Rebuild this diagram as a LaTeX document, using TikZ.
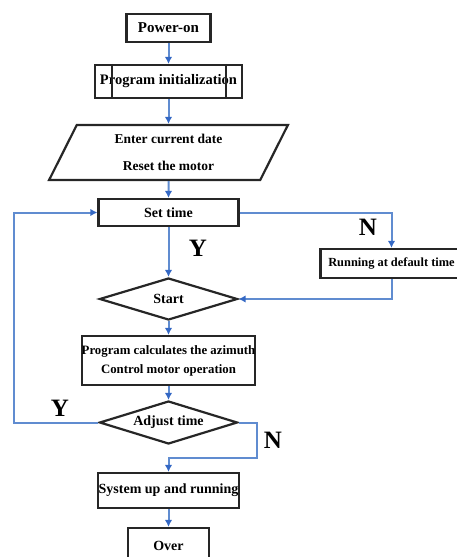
\documentclass[tikz,border=0pt]{standalone}
\usepackage{fontspec}
\setmainfont{Liberation Serif}
\usetikzlibrary{shapes.geometric,arrows.meta,calc}
\definecolor{flowblue}{RGB}{96,140,208}
\definecolor{tipblue}{RGB}{52,104,196}
\begin{document}
\begin{tikzpicture}[x=1pt,y=-1pt,>={Latex[length=7pt,width=7.5pt,fill=tipblue,color=tipblue]},
	box/.style={draw=black!85,line width=2.2pt,inner sep=0pt,align=center,
		font=\bfseries\fontsize{14}{19}\selectfont},
	decision/.style={diamond,aspect=3.2,draw=black!85,line width=2.2pt,inner sep=0pt,
		font=\bfseries\fontsize{14}{16}\selectfont},
	flow/.style={->,flowblue,line width=2pt},
	yn/.style={font=\bfseries\fontsize{25}{25}\selectfont}]
	\useasboundingbox (0,0) rectangle (457,557);
	% boxes
	\node [box,minimum width=84pt,minimum height=28pt,font=\bfseries\fontsize{15}{17}\selectfont] (power) at (168.5,28) {Power-on};
	\node [box,minimum width=147pt,minimum height=33pt,font=\bfseries\fontsize{14.5}{17}\selectfont] (init) at (168.5,81.5) {Program initialization};
	\draw [line width=2.2pt,black!85] ($(init.north west)+(18,0)$) -- ($(init.south west)+(18,0)$)
		($(init.north east)+(-17,0)$) -- ($(init.south east)+(-17,0)$);
	\node [box,trapezium,trapezium left angle=66,trapezium right angle=114,trapezium stretches=true,
		minimum width=239pt,minimum height=55pt,font=\bfseries\fontsize{13.5}{27}\selectfont] (input) at (168.5,152.5)
		{Enter current date\\Reset the motor};
	\node [box,minimum width=140pt,minimum height=27pt] (settime) at (168.5,212.5) {Set time};
	\node [box,minimum width=142pt,minimum height=29pt,font=\bfseries\fontsize{12.4}{15}\selectfont] (default) at (391.5,263.5) {Running at default time};
	\node [decision,minimum width=138pt,minimum height=42pt] (start) at (168.5,299) {Start};
	\node [box,minimum width=165pt,minimum height=49pt,font=\bfseries\fontsize{12.8}{19}\selectfont] (calc) at (168.5,360.5)
		{Program calculates the azimuth\\Control motor operation};
	\node [decision,minimum width=138pt,minimum height=43pt] (adjust) at (168.5,422.5) {Adjust time};
	\node [box,minimum width=141pt,minimum height=35pt] (system) at (168.5,490.5) {System up and running};
	\node [box,minimum width=81pt,minimum height=36pt] (over) at (168.5,546) {Over};
	% connectors
	\draw [flow] (power) -- (init);
	\draw [flow] (init) -- (input);
	\draw [flow] (input) -- (settime);
	\draw [flow] (settime) -- (start);
	\draw [flow] (start) -- (calc);
	\draw [flow] (calc) -- (adjust);
	\draw [flow] (system) -- (over);
	\draw [flow] (settime.east) -| (default.north);
	\draw [flow] (default.south) |- (start.east);
	\draw [flow] (adjust.west) -- (14,422.5) |- (settime.west);
	\draw [flow] (adjust.east) -- (257,422.5) -- (257,458) -| (system.north);
	% labels
	\node [yn] (y1) at (198,248) {Y};
	\node [yn] (n1) at (368,227) {N};
	\node [yn] (y2) at (60,408) {Y};
	\node [yn] (n2) at (273,440) {N};
\end{tikzpicture}
\end{document}
